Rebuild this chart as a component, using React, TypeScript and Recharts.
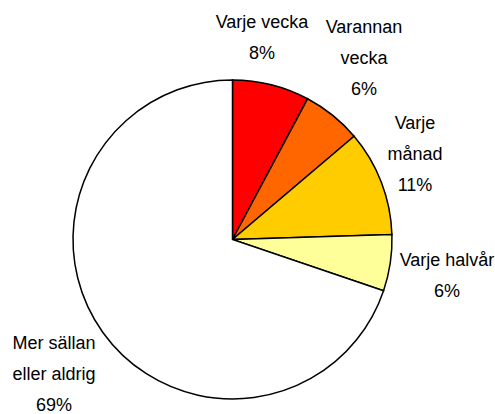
import React from "react";
import { PieChart, Pie, Cell } from "recharts";

const categories = ["Varje vecka", "Varannan vecka", "Varje månad", "Varje halvår", "Mer sällan eller aldrig"];
const shares = [7.8, 6.0, 10.7, 5.7, 69.8];
const percentLabels = ["8%", "6%", "11%", "6%", "69%"];
const labelLines = [
  ["Varje vecka"],
  ["Varannan", "vecka"],
  ["Varje", "månad"],
  ["Varje halvår"],
  ["Mer sällan", "eller aldrig"],
];
const colors = ["#FF0000", "#FF6600", "#FFCC00", "#FFFF99", "#FFFFFF"];

const data = categories.map((name, i) => ({ name, value: shares[i] }));

// label block offsets relative to pie centre (x centre, first line y)
const labelOffsets = [
  [29.5, -217.5],
  [131.5, -212.5],
  [182.5, -116.8],
  [214.5, 20.5],
  [-178.5, 103.5],
];
const lineStep = 31;

const renderLabel = (props: any) => {
  const { cx, cy, index } = props;
  const [ox, oy] = labelOffsets[index];
  const lines = [...labelLines[index], percentLabels[index]];
  return (
    <text
      x={cx + ox}
      y={cy + oy}
      textAnchor="middle"
      fill="#000"
      fontFamily="'Liberation Sans', Arial, sans-serif"
      fontSize={18}
    >
      {lines.map((l, k) => (
        <tspan key={k} x={cx + ox} y={cy + oy + k * lineStep} dominantBaseline="central">
          {l}
        </tspan>
      ))}
    </text>
  );
};

export default function App() {
  return (
    <div style={{ position: "absolute", left: 0, top: 0, width: 495, height: 414, background: "#fff" }}>
      <PieChart width={495} height={414} margin={{ top: 0, right: 0, bottom: 0, left: 0 }}>
        <Pie
          data={data}
          dataKey="value"
          nameKey="name"
          cx={232.5}
          cy={239.5}
          outerRadius={159.5}
          startAngle={90}
          endAngle={-270}
          stroke="#000"
          strokeWidth={1.5}
          label={renderLabel}
          labelLine={false}
          isAnimationActive={false}
        >
          {data.map((d, i) => (
            <Cell key={d.name} fill={colors[i]} />
          ))}
        </Pie>
      </PieChart>
    </div>
  );
}
